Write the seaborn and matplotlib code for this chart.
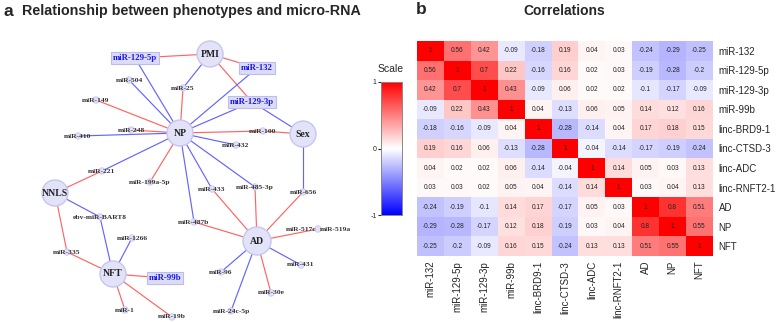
import numpy as np
import pandas as pd
import seaborn as sns
import matplotlib.pyplot as plt
from matplotlib.patches import Circle
from matplotlib.colors import LinearSegmentedColormap

# correlation matrix (panel b)
labels = ["miR-132", "miR-129-5p", "miR-129-3p", "miR-99b", "linc-BRD9-1",
          "linc-CTSD-3", "linc-ADC", "linc-RNFT2-1", "AD", "NP", "NFT"]
corr = [
    [1, 0.56, 0.42, -0.09, -0.18, 0.19, 0.04, 0.03, -0.24, -0.29, -0.25],
    [0.56, 1, 0.7, 0.22, -0.16, 0.16, 0.02, 0.03, -0.19, -0.28, -0.2],
    [0.42, 0.7, 1, 0.43, -0.09, 0.06, 0.02, 0.02, -0.1, -0.17, -0.09],
    [-0.09, 0.22, 0.43, 1, 0.04, -0.13, 0.06, 0.05, 0.14, 0.12, 0.16],
    [-0.18, -0.16, -0.09, 0.04, 1, -0.28, -0.14, 0.04, 0.17, 0.18, 0.15],
    [0.19, 0.16, 0.06, -0.13, -0.28, 1, -0.04, -0.14, -0.17, -0.19, -0.24],
    [0.04, 0.02, 0.02, 0.06, -0.14, -0.04, 1, 0.14, 0.05, 0.03, 0.13],
    [0.03, 0.03, 0.02, 0.05, 0.04, -0.14, 0.14, 1, 0.03, 0.04, 0.13],
    [-0.24, -0.19, -0.1, 0.14, 0.17, -0.17, 0.05, 0.03, 1, 0.8, 0.51],
    [-0.29, -0.28, -0.17, 0.12, 0.18, -0.19, 0.03, 0.04, 0.8, 1, 0.55],
    [-0.25, -0.2, -0.09, 0.16, 0.15, -0.24, 0.13, 0.13, 0.51, 0.55, 1],
]

# network (panel a): phenotype hubs, highlighted miRNAs, other miRNAs
hubs = ["PMI", "NP", "Sex", "NNLS", "AD", "NFT"]
boxed = ["miR-129-5p", "miR-132", "miR-129-3p", "miR-99b"]
# edges: (a, b, sign)  +1 red, -1 blue
edges = [
    ("miR-129-5p", "PMI", 1), ("miR-129-5p", "NP", -1), ("PMI", "miR-25", -1),
    ("miR-25", "NP", 1), ("PMI", "miR-132", 1), ("PMI", "miR-129-3p", 1),
    ("miR-132", "NP", -1), ("miR-129-3p", "NP", -1), ("miR-129-3p", "Sex", -1),
    ("miR-504", "NP", -1), ("miR-149", "NP", 1), ("miR-248", "NP", 1),
    ("miR-410", "NP", -1), ("NP", "miR-100", 1), ("miR-100", "Sex", 1),
    ("NP", "miR-432", -1), ("NP", "miR-221", -1), ("NP", "miR-199a-5p", 1),
    ("NP", "miR-433", -1), ("NP", "miR-485-3p", -1), ("NP", "miR-487b", -1),
    ("Sex", "miR-656", -1), ("miR-221", "NNLS", 1), ("NNLS", "ebv-miR-BART8", -1),
    ("ebv-miR-BART8", "NFT", -1), ("NNLS", "miR-335", 1), ("miR-335", "NFT", 1),
    ("miR-1266", "NFT", -1), ("NFT", "miR-99b", 1), ("NFT", "miR-1", 1),
    ("NFT", "miR-19b", 1), ("miR-433", "AD", 1), ("miR-485-3p", "AD", 1),
    ("miR-656", "AD", 1), ("miR-487b", "AD", 1), ("AD", "miR-517c", 1),
    ("AD", "miR-431", -1), ("AD", "miR-96", -1), ("AD", "miR-30e", 1),
    ("AD", "miR-24c-5p", -1),
]

# layout of the network, in pixels of the left panel
layout = {
    "PMI": (210, 54), "NP": (180, 133), "Sex": (303, 134), "NNLS": (55, 193),
    "AD": (257, 241), "NFT": (113, 274),
    "miR-129-5p": (135, 58), "miR-132": (257, 68), "miR-129-3p": (252, 102),
    "miR-99b": (165, 278),
    "miR-504": (129, 80), "miR-25": (183, 88), "miR-149": (96, 100),
    "miR-248": (131, 130), "miR-410": (78, 136), "miR-100": (263, 131),
    "miR-432": (236, 145), "miR-221": (102, 171), "miR-199a-5p": (150, 182),
    "miR-433": (212, 189), "miR-485-3p": (255, 187), "miR-656": (303, 192),
    "ebv-miR-BART8": (100, 217), "miR-487b": (194, 222), "miR-1266": (132, 238),
    "miR-517c": (318, 229), "miR-335": (67, 252), "miR-96": (221, 272),
    "miR-431": (301, 265), "miR-30e": (271, 293), "miR-1": (125, 310),
    "miR-19b": (172, 317), "miR-24c-5p": (231, 311),
}

sns.set_style("white")
plt.rcParams["font.family"] = ["Liberation Sans", "DejaVu Sans"]

fig = plt.figure(figsize=(7.78, 3.22), dpi=100)
W, H = 778, 322

# ---- panel a: network
axn = fig.add_axes([0, 0, 390 / W, 1])
axn.set_xlim(0, 390)
axn.set_ylim(H, 0)
axn.axis("off")

for a, b, s in edges:
    (x1, y1), (x2, y2) = layout[a], layout[b]
    axn.plot([x1, x2], [y1, y2], color="#ff6464" if s > 0 else "#6464ff",
             lw=0.85, zorder=1)

serif = ["Liberation Serif", "DejaVu Serif"]
for name, (x, y) in layout.items():
    if name in hubs:
        r = 14 if name == "AD" else 13
        axn.add_patch(Circle((x, y), r, facecolor="#e2e2f8", edgecolor="#c6c6f0",
                             lw=1, zorder=2))
        axn.text(x, y, name, ha="center", va="center", fontsize=7,
                 fontweight="bold", family=serif, color="#222222", zorder=3)
    elif name in boxed:
        axn.text(x, y, name, ha="center", va="center", fontsize=6.3,
                 fontweight="bold", family=serif, color="#1a1ae6", zorder=3,
                 bbox=dict(boxstyle="square,pad=0.2", facecolor="#dcdcf8",
                           edgecolor="#bcbcf0", lw=0.8))
    else:
        axn.add_patch(Circle((x, y), 3.2, facecolor="#e2e2f8", edgecolor="#c6c6f0",
                             lw=0.6, zorder=2))
        if name == "miR-517c":
            axn.text(x - 2, y, name, ha="right", va="center", fontsize=5.4,
                     fontweight="bold", family=serif, color="#333333", zorder=3)
            axn.text(x + 2, y, "miR-519a", ha="left", va="center", fontsize=5.4,
                     fontweight="bold", family=serif, color="#333333", zorder=3)
        else:
            axn.text(x, y, name, ha="center", va="center", fontsize=5.4,
                     fontweight="bold", family=serif, color="#333333", zorder=3)

fig.text(4 / W, 1 - 11 / H, "a", fontsize=12.5, fontweight="bold", va="center")
fig.text(22 / W, 1 - 11 / H, "Relationship between phenotypes and micro-RNA",
         fontsize=10.3, fontweight="bold", va="center")

# ---- panel b: heatmap
df = pd.DataFrame(corr, index=labels, columns=labels)
annot = np.array([[f"{v:g}" for v in row] for row in corr])
cmap = LinearSegmentedColormap.from_list("bwr2", ["#0000ff", "#ffffff", "#ff0000"])

axh = fig.add_axes([417 / W, 1 - 256 / H, 296 / W, 215 / H])
axc = fig.add_axes([381 / W, 1 - 215 / H, 21 / W, 133 / H])
sns.heatmap(df, ax=axh, cbar_ax=axc, cmap=cmap, vmin=-1, vmax=1,
            annot=annot, fmt="", annot_kws={"fontsize": 4.7, "color": "#222222"})
axh.yaxis.tick_right()
axh.tick_params(axis="both", length=0, labelsize=7)
axh.tick_params(axis="y", pad=4)
axh.set_yticklabels(labels, rotation=0)
axh.set_xticklabels(labels, rotation=90)
axh.set_xlabel("")
axh.set_ylabel("")

axc.yaxis.set_ticks_position("left")
axc.set_yticks([-1, 0, 1])
axc.set_yticklabels(["-1", "0", "1"])
axc.tick_params(labelsize=5, length=2, pad=1)
for sp in axc.spines.values():
    sp.set_visible(True)
    sp.set_color("#888888")
    sp.set_linewidth(0.6)
fig.text(391 / W, 1 - 69 / H, "Scale", fontsize=7.5, ha="center", va="center")

fig.text(416 / W, 1 - 9 / H, "b", fontsize=12.5, fontweight="bold", va="center")
fig.text(564 / W, 1 - 11 / H, "Correlations", fontsize=10, fontweight="bold",
         ha="center", va="center")

fig.savefig("out.png", dpi=100)
